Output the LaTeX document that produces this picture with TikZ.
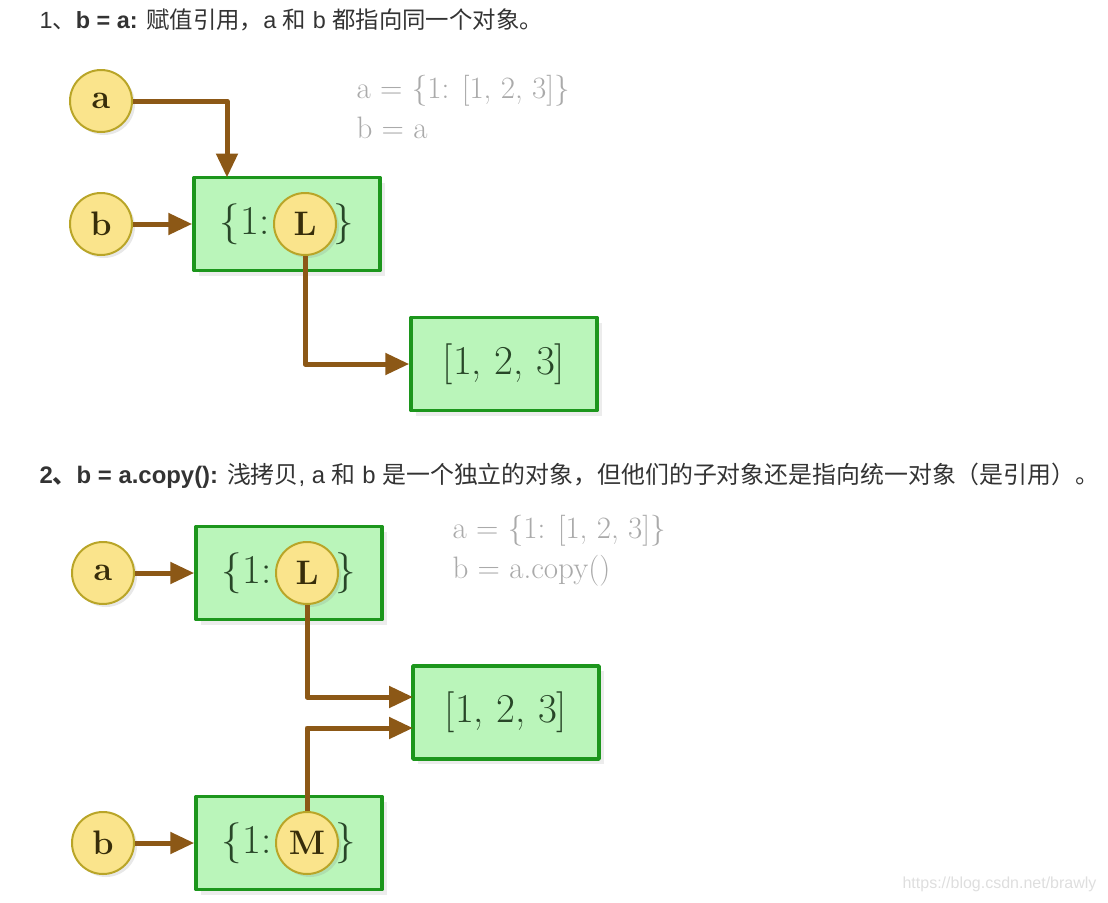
\documentclass[tikz,border=0pt]{standalone}
\usepackage{fontspec}
\newfontfamily\cjk{Noto Sans CJK SC}
\newfontfamily\latin{Liberation Sans}
\usetikzlibrary{arrows.meta,shadows}
\begin{document}
\begin{tikzpicture}[x=1pt, y=-1pt, line join=round,
  var/.style={circle, draw=varline, fill=varfill, line width=2pt, minimum size=62pt,
    inner sep=0pt, text=vartext, font=\fontsize{34}{34}\selectfont\bfseries,
    drop shadow={shadow xshift=3pt, shadow yshift=-3pt, opacity=.18}},
  obj/.style={rectangle, draw=objline, fill=objfill, line width=3.5pt, minimum width=186pt,
    minimum height=93pt, inner sep=0pt, text=objtext, font=\fontsize{41}{41}\selectfont,
    drop shadow={shadow xshift=5pt, shadow yshift=-5pt, opacity=.15}},
  ref/.style={draw=refbrown, line width=5pt, -{Triangle[length=24pt,width=21pt]}},
  code/.style={anchor=west, text=codegray, font=\fontsize{31}{31}\selectfont},
  title/.style={anchor=west, text=black!80, font=\latin}]
  \definecolor{varfill}{RGB}{250,228,140}
  \definecolor{varline}{RGB}{185,165,40}
  \definecolor{vartext}{RGB}{55,45,10}
  \definecolor{objfill}{RGB}{186,245,186}
  \definecolor{objline}{RGB}{28,150,28}
  \definecolor{objtext}{RGB}{40,70,40}
  \definecolor{refbrown}{RGB}{140,88,22}
  \definecolor{codegray}{RGB}{170,170,170}
  \useasboundingbox (0,0) rectangle (1108,902);

  \node[title, font=\latin\fontsize{23.4}{23.4}\selectfont] (t1) at (36,20)
    {1{\cjk 、}\textbf{b = a:} {\cjk 赋值引用，}a {\cjk 和} b {\cjk 都指向同一个对象。}};

  \node[obj] (d1) at (287,224) {\{1:\hspace{64pt}\}};
  \node[obj] (lst1) at (504,364) {[1, 2, 3]};
  \node[var] (a1) at (101,101) {a};
  \node[var] (b1) at (101,224) {b};
  \node[var] (L1) at (305,224) {L};
  \coordinate (a1in) at (227,177.5);
  \draw[ref] (a1) -| (a1in);
  \draw[ref] (b1) -- (d1);
  \draw[ref] (L1) |- (lst1);
  \node[code] (c1a) at (353,91) {a = \{1: [1, 2, 3]\}};
  \node[code] (c1b) at (353,128) {b = a};

  \node[title, font=\latin\fontsize{23.9}{23.9}\selectfont] (t2) at (36,476)
    {\textbf{2{\cjk 、}b = a.copy():} {\cjk 浅拷贝}, a {\cjk 和} b {\cjk 是一个独立的对象，但他们的子对象还是指向统一对象（是引用）。}};

  \node[obj] (d2) at (289,573) {\{1:\hspace{64pt}\}};
  \node[obj] (lst2) at (506,712.5) {[1, 2, 3]};
  \node[obj] (d3) at (289,843) {\{1:\hspace{64pt}\}};
  \node[var] (a2) at (103,573) {a};
  \node[var] (L2) at (307,573) {L};
  \node[var] (b2) at (103,843) {b};
  \node[var] (M2) at (307,843) {M};
  \coordinate (lst2up) at (413,697);
  \coordinate (lst2dn) at (413,728);
  \draw[ref] (a2) -- (d2);
  \draw[ref] (b2) -- (d3);
  \draw[ref] (L2) |- (lst2up);
  \draw[ref] (M2) |- (lst2dn);
  \node[code] (c2a) at (449,531) {a = \{1: [1, 2, 3]\}};
  \node[code] (c2b) at (449,571) {b = a.copy()};

  \node[anchor=east, text=black!13, font=\latin\fontsize{16}{16}\selectfont] (wm) at (1100,884)
    {https://blog.csdn.net/brawly};
\end{tikzpicture}
\end{document}
